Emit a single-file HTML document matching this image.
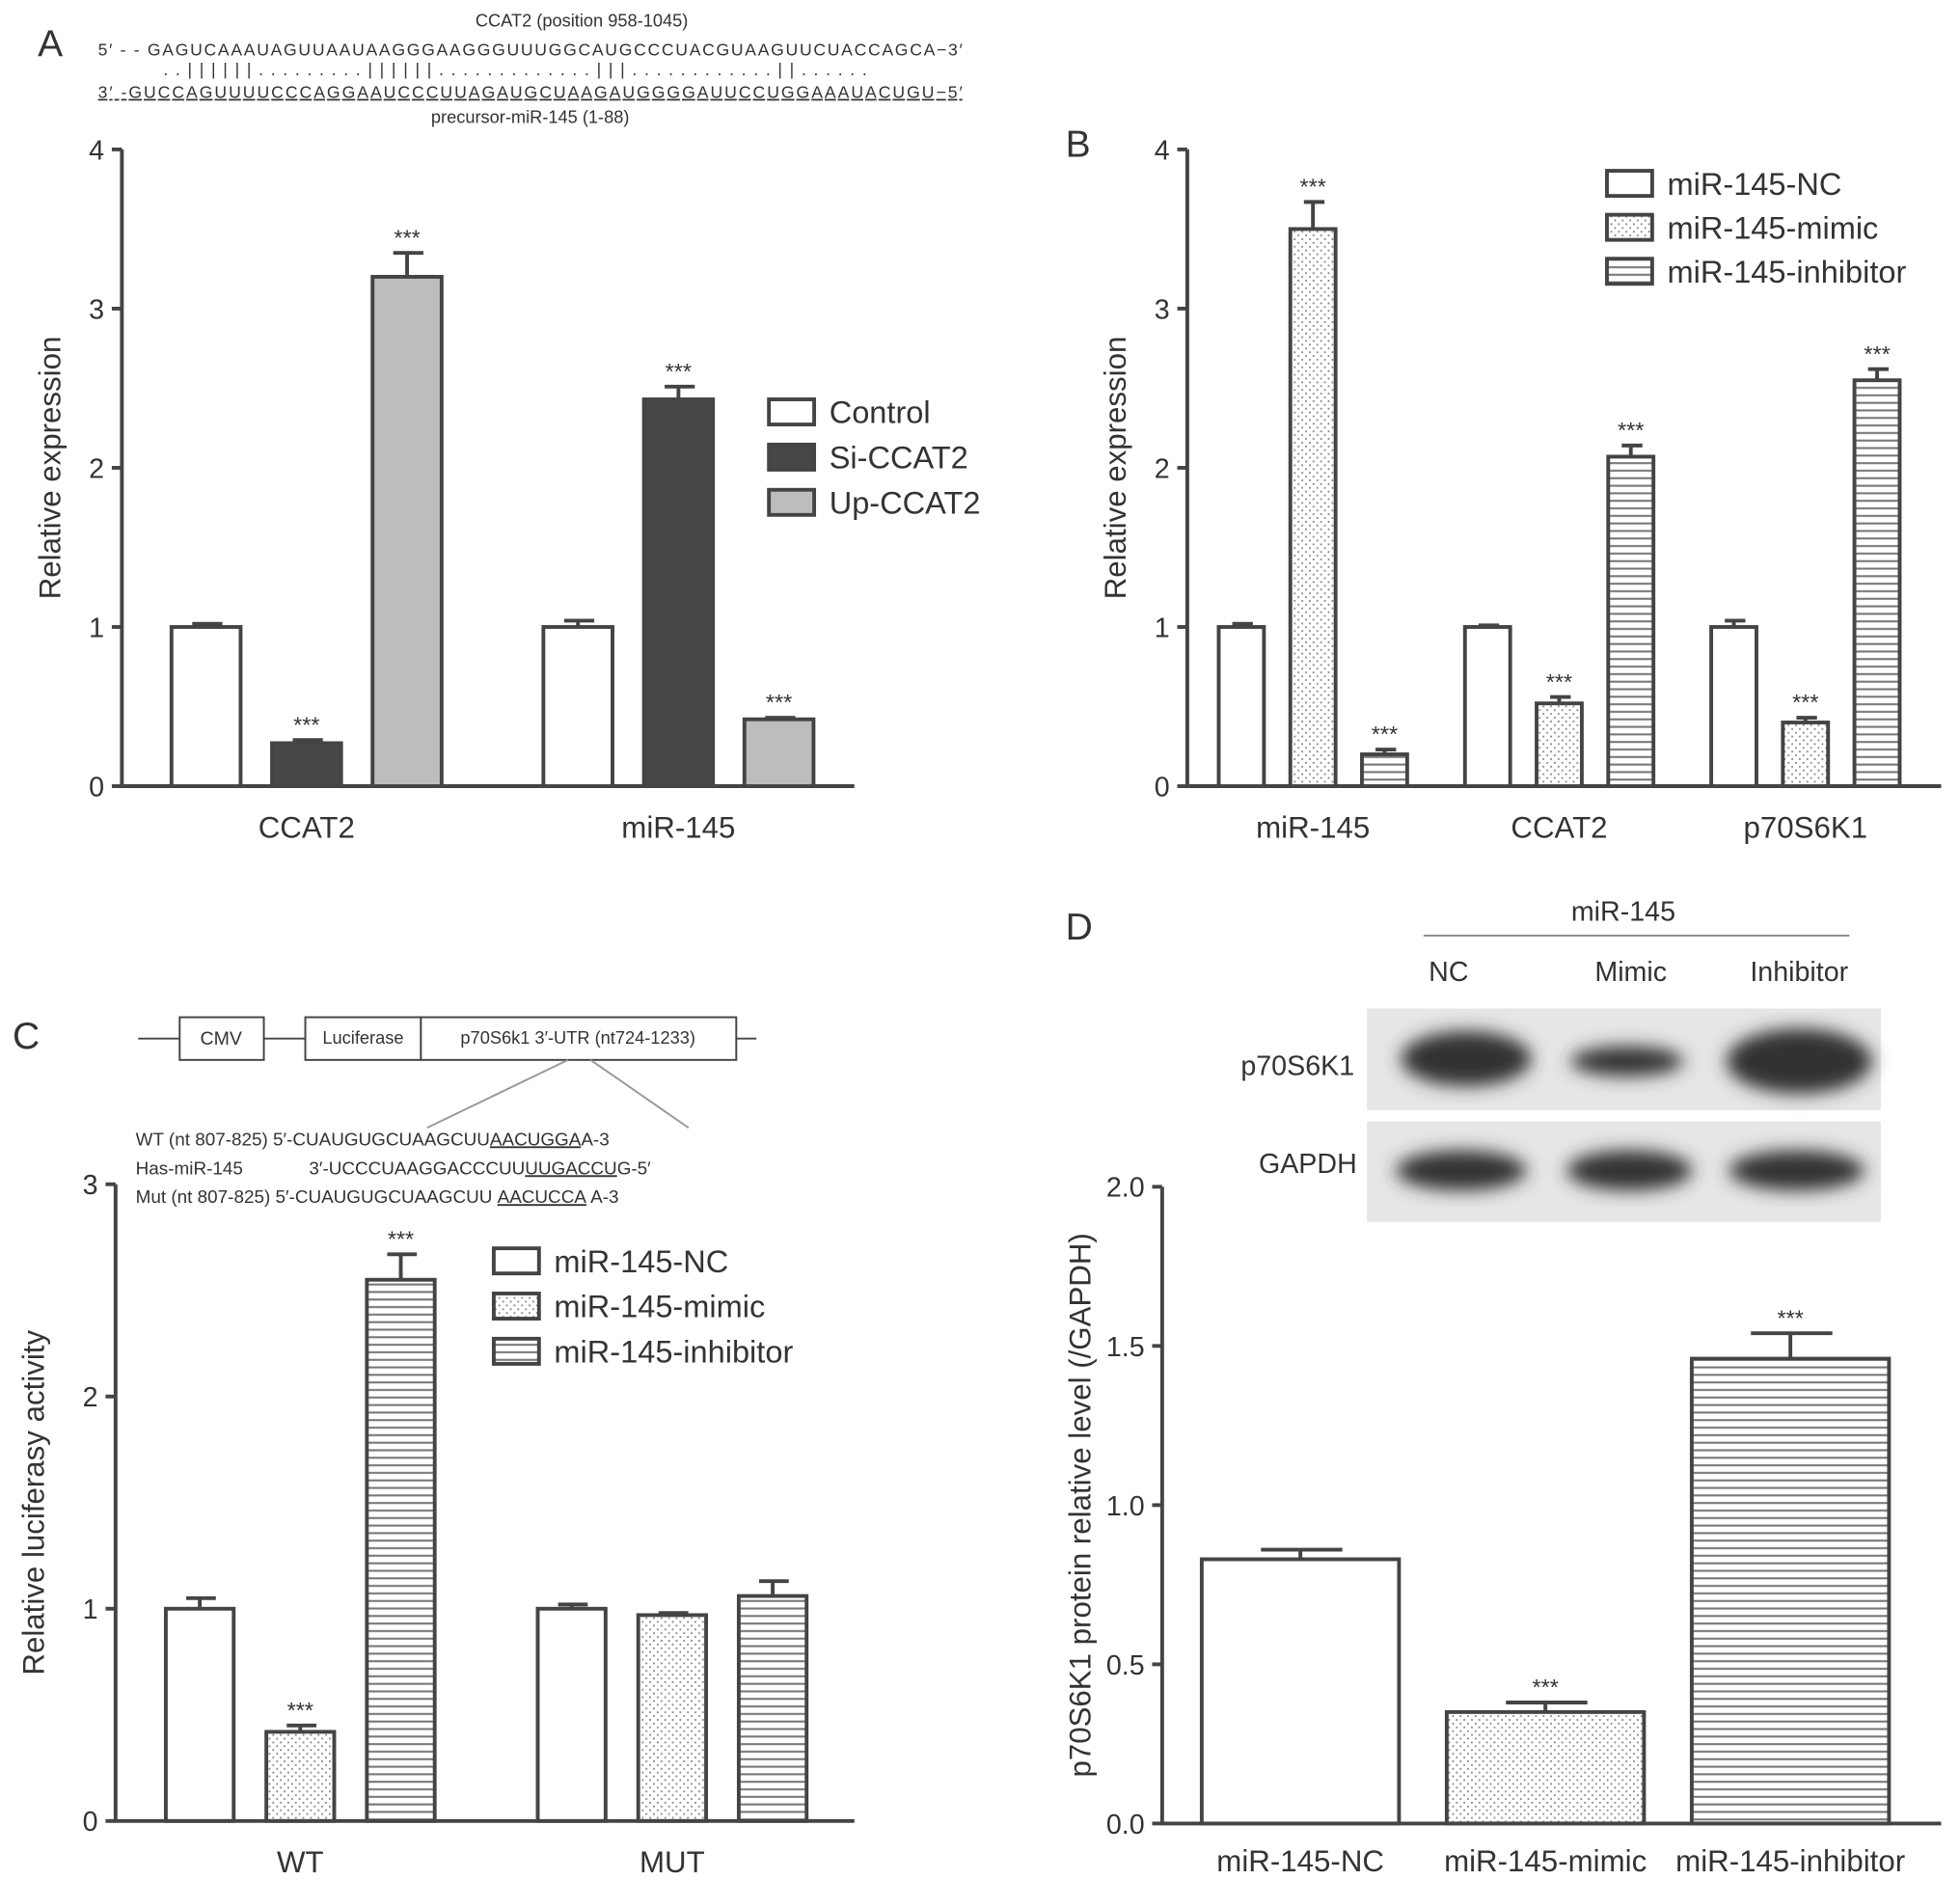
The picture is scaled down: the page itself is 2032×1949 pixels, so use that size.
<!DOCTYPE html>
<html><head><meta charset="utf-8"><style>
html,body{margin:0;padding:0;background:#fff}
svg{display:block}
text{font-family:"Liberation Sans",sans-serif;fill:#333}
</style></head><body>
<svg id="fig" width="2032" height="1949" viewBox="0 0 1560 1497" preserveAspectRatio="none" xmlns="http://www.w3.org/2000/svg">
<defs>
<pattern id="dots" patternUnits="userSpaceOnUse" width="6" height="6"><rect width="6" height="6" fill="#fff"/><circle cx="1.5" cy="1.5" r="0.8" fill="#888"/><circle cx="4.5" cy="4.5" r="0.8" fill="#888"/></pattern>
<pattern id="hlines" patternUnits="userSpaceOnUse" width="6" height="6"><rect width="6" height="6" fill="#fff"/><rect y="2" width="6" height="1.6" fill="#777"/></pattern>
<filter id="blur"><feGaussianBlur stdDeviation="7"/></filter>
</defs>
<g id="root"></g>
<text x="30" y="45" font-size="30">A</text>
<text x="463" y="21" font-size="14" text-anchor="middle">CCAT2 (position 958-1045)</text>
<text x="78" y="44" font-size="13.5" textLength="688">5′  - - GAGUCAAAUAGUUAAUAAGGGAAGGGUUUGGCAUGCCCUACGUAAGUUCUACCAGCA−3′</text>
<text x="130" y="60" font-size="13.5" textLength="560">. . | | | | | | . . . . . . . . . | | | | | | . . . . . . . . . . . . . | | | . . . . . . . . . . . . | | . . . . . .</text>
<text x="78" y="78" font-size="13.5" textLength="688" text-decoration="underline">3′    -GUCCAGUUUUCCCAGGAAUCCCUUAGAUGCUAAGAUGGGGAUUCCUGGAAAUACUGU−5′</text>
<text x="422" y="98" font-size="14" text-anchor="middle">precursor-miR-145 (1-88)</text>
<text x="10" y="835" font-size="30">C</text>
<g stroke="#444" stroke-width="1.5" fill="#fff">
<line x1="110" y1="827" x2="602" y2="827"/>
<rect x="143" y="810" width="67" height="34"/>
<rect x="243" y="810" width="92" height="34"/>
<rect x="335" y="810" width="251" height="34"/>
<line x1="452" y1="844" x2="340" y2="898" stroke="#999"/>
<line x1="470" y1="844" x2="548" y2="898" stroke="#999"/>
</g>
<text x="176" y="832" font-size="15" text-anchor="middle">CMV</text>
<text x="289" y="831" font-size="14" text-anchor="middle">Luciferase</text>
<text x="460" y="831" font-size="14" text-anchor="middle">p70S6k1 3′-UTR (nt724-1233)</text>
<text x="108" y="912" font-size="14.5">WT (nt 807-825) 5′-CUAUGUGCUAAGCUU<tspan text-decoration="underline">AACUGGA</tspan>A-3</text>
<text x="108" y="935" font-size="14.5">Has-miR-145<tspan x="246">3′-UCCCUAAGGACCCUU</tspan><tspan text-decoration="underline">UUGACCU</tspan>G-5′</text>
<text x="108" y="958" font-size="14.5">Mut (nt 807-825) 5′-CUAUGUGCUAAGCUU <tspan text-decoration="underline">AACUCCA</tspan> A-3</text>
<text x="848" y="748" font-size="30">D</text>
<text x="1292" y="733" font-size="22" text-anchor="middle">miR-145</text>
<line x1="1133" y1="745" x2="1472" y2="745" stroke="#888" stroke-width="1.5"/>
<text x="1153" y="781" font-size="22" text-anchor="middle">NC</text>
<text x="1298" y="781" font-size="22" text-anchor="middle">Mimic</text>
<text x="1432" y="781" font-size="22" text-anchor="middle">Inhibitor</text>
<g>
<rect x="1088" y="803" width="409" height="81" fill="#e6e6e6"/>
<rect x="1088" y="893" width="409" height="80" fill="#e6e6e6"/>
<g filter="url(#blur)" fill="#333">
<ellipse cx="1167" cy="843" rx="52" ry="22"/>
<ellipse cx="1295" cy="845" rx="45" ry="12"/>
<ellipse cx="1432" cy="845" rx="58" ry="26"/>
<ellipse cx="1163" cy="932" rx="52" ry="16"/>
<ellipse cx="1297" cy="932" rx="50" ry="16"/>
<ellipse cx="1430" cy="932" rx="54" ry="16"/>
</g>
</g>
<text x="1078" y="856" font-size="22" text-anchor="end">p70S6K1</text>
<text x="1080" y="934" font-size="22" text-anchor="end">GAPDH</text>
<text x="848" y="125" font-size="30">B</text>
<script>
// Panel A data
const aCategories = ["CCAT2", "miR-145"];
const aSeries = ["Control", "Si-CCAT2", "Up-CCAT2"];
const aValues = [[1.0, 0.27, 3.2], [1.0, 2.43, 0.42]];
const aErrors = [[0.02, 0.02, 0.15], [0.04, 0.08, 0.01]];
const aStars = [[false, true, true], [false, true, true]];
const aTicks = [0, 1, 2, 3, 4];
// Panel B data
const bCategories = ["miR-145", "CCAT2", "p70S6K1"];
const bSeries = ["miR-145-NC", "miR-145-mimic", "miR-145-inhibitor"];
const bValues = [[1.0, 3.5, 0.2], [1.0, 0.52, 2.07], [1.0, 0.4, 2.55]];
const bErrors = [[0.02, 0.17, 0.03], [0.01, 0.04, 0.07], [0.04, 0.03, 0.07]];
const bStars = [[false, true, true], [false, true, true], [false, true, true]];
const bTicks = [0, 1, 2, 3, 4];
// Panel C data
const cCategories = ["WT", "MUT"];
const cValues = [[1.0, 0.42, 2.55], [1.0, 0.97, 1.06]];
const cErrors = [[0.05, 0.03, 0.12], [0.02, 0.01, 0.07]];
const cStars = [[false, true, true], [false, false, false]];
const cTicks = [0, 1, 2, 3];
// Panel D data
const dCategories = ["miR-145-NC", "miR-145-mimic", "miR-145-inhibitor"];
const dValues = [0.83, 0.35, 1.46];
const dErrors = [0.03, 0.03, 0.08];
const dStars = [false, true, true];
const dTicks = ["0.0", "0.5", "1.0", "1.5", "2.0"];

const NS = "http://www.w3.org/2000/svg";
const root = document.getElementById("root");
function mk(tag, attrs, parent) {
  const e = document.createElementNS(NS, tag);
  for (const k in attrs) e.setAttribute(k, attrs[k]);
  (parent || root).appendChild(e);
  return e;
}
function txt(x, y, s, size, anchor, parent) {
  const t = mk("text", {x: x, y: y, "font-size": size, "text-anchor": anchor || "middle"}, parent);
  t.textContent = s;
  return t;
}
const fillsAB = ["#fff", "#474747", "#bdbdbd"];
const fillsPat = ["#fff", "url(#dots)", "url(#hlines)"];

function drawPanel(cfg) {
  const g = mk("g", {});
  
  
  const y = v => cfg.y0 - (v / cfg.max) * (cfg.y0 - cfg.yTop);
  const ax = mk("path", {d: `M${cfg.x0} ${cfg.yTop} V${cfg.y0} H${cfg.x1}`, fill: "none", stroke: "#444", "stroke-width": 3}, g);
  
  
  cfg.ticks.forEach(t => {
    const v = parseFloat(t);
    mk("line", {x1: cfg.x0 - 8, x2: cfg.x0, y1: y(v), y2: y(v), stroke: "#444", "stroke-width": 3}, g);
    const tl = txt(cfg.x0 - 14, y(v) + 8, String(t), 22, "end", g);
    
    
  });
  const yt = txt(0, 0, cfg.ytitle, 24, "middle", g);
  yt.setAttribute("transform", `translate(${cfg.ytx},${(cfg.y0 + cfg.yTop) / 2}) rotate(-90)`);
  
  
  cfg.cats.forEach((c, gi) => {
    const cx = cfg.gc0 + gi * cfg.gstep;
    const cl = txt(cx, cfg.y0 + 41, c, 24, "middle", g);
    
    
    cfg.vals[gi].forEach((v, si) => {
      const bx = cx + (si - (cfg.vals[gi].length - 1) / 2) * cfg.step - cfg.bw / 2;
      const e = cfg.errs[gi][si];
      const top = y(v);
      mk("line", {x1: bx + cfg.bw / 2, x2: bx + cfg.bw / 2, y1: y(v + e), y2: top, stroke: "#444", "stroke-width": 3}, g);
      mk("line", {x1: bx + cfg.bw * 0.3, x2: bx + cfg.bw * 0.7 + 2, y1: y(v + e), y2: y(v + e), stroke: "#444", "stroke-width": 3}, g);
      const r = mk("rect", {x: bx, y: top, width: cfg.bw, height: cfg.y0 - top, fill: cfg.fills[si], stroke: "#444", "stroke-width": 3}, g);
      
      
      if (cfg.stars[gi][si]) {
        const s = txt(bx + cfg.bw / 2, y(v + e) - 6, "***", 18, "middle", g);
        
        
      }
    });
  });
  return g;
}
drawPanel({name: "panel-a-chart", x0: 97, x1: 680, y0: 626, yTop: 119, max: 4, ticks: aTicks, ytitle: "Relative expression", ytx: 48,
  cats: aCategories, vals: aValues, errs: aErrors, stars: aStars, gc0: 244, gstep: 296, step: 80, bw: 55, fills: fillsAB});
drawPanel({name: "panel-b-chart", x0: 945, x1: 1545, y0: 626, yTop: 119, max: 4, ticks: bTicks, ytitle: "Relative expression", ytx: 896,
  cats: bCategories, vals: bValues, errs: bErrors, stars: bStars, gc0: 1045, gstep: 196, step: 57, bw: 36, fills: fillsPat});
drawPanel({name: "panel-c-chart", x0: 92, x1: 680, y0: 1450, yTop: 943, max: 3, ticks: cTicks, ytitle: "Relative luciferasy activity", ytx: 35,
  cats: cCategories, vals: cValues, errs: cErrors, stars: cStars, gc0: 239, gstep: 296, step: 80, bw: 54, fills: fillsPat});
drawPanel({name: "panel-d-chart", x0: 925, x1: 1545, y0: 1452, yTop: 945, max: 2, ticks: dTicks, ytitle: "p70S6K1 protein relative level (/GAPDH)", ytx: 868,
  cats: [""], vals: [dValues], errs: [dErrors], stars: [dStars], gc0: 1230, gstep: 0, step: 195, bw: 157, fills: fillsPat});
dCategories.forEach((c, i) => {
  const t = txt(1230 + (i - 1) * 195, 1490, c, 24, "middle");
  
  
});

function legend(x, y, names, fills, size, gap, name) {
  const g = mk("g", {});
  
  
  names.forEach((n, i) => {
    const yy = y + i * gap;
    const r = mk("rect", {x: x, y: yy - 10, width: 36, height: 20, fill: fills[i], stroke: "#444", "stroke-width": 3}, g);
    
    
    const t = txt(x + 48, yy + 9, n, size, "start", g);
    
    
  });
}
legend(612, 328, aSeries, fillsAB, 25, 36, "legend-a");
legend(1279, 146, bSeries, fillsPat, 25, 35, "legend-b");
legend(393, 1004, bSeries, fillsPat, 25, 36, "legend-c");
</script>
</svg>
</body></html>
